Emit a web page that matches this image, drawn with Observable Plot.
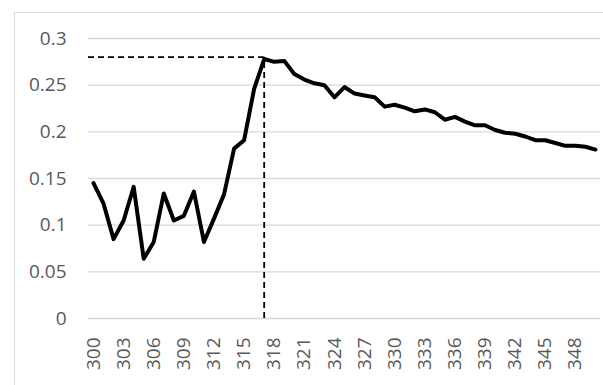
<!DOCTYPE html>
<html><head><meta charset="utf-8">
<script src="https://cdn.jsdelivr.net/npm/d3@7"></script>
<script src="https://cdn.jsdelivr.net/npm/@observablehq/plot@0.6"></script>
<style>
body{margin:0;background:#fff;}
#wrap{position:relative;width:603px;height:385px;overflow:hidden;}
#frame{position:absolute;left:14px;top:12px;width:620px;height:400px;border:1px solid #d9d9d9;}
#chart{position:absolute;left:0;top:0;}
</style></head><body>
<div id="wrap"><div id="frame"></div><div id="chart"></div></div>
<script>
const xs = [300,301,302,303,304,305,306,307,308,309,310,311,312,313,314,315,316,317,318,319,320,321,322,323,324,325,326,327,328,329,330,331,332,333,334,335,336,337,338,339,340,341,342,343,344,345,346,347,348,349,350];
const values = [0.145,0.123,0.085,0.105,0.141,0.064,0.082,0.134,0.105,0.110,0.136,0.082,0.107,0.133,0.182,0.191,0.246,0.278,0.275,0.276,0.262,0.256,0.252,0.250,0.237,0.248,0.241,0.239,0.237,0.227,0.229,0.226,0.222,0.224,0.221,0.213,0.216,0.211,0.207,0.207,0.202,0.199,0.198,0.195,0.191,0.191,0.188,0.185,0.185,0.184,0.181];
const xTicks = [300,303,306,309,312,315,318,321,324,327,330,333,336,339,342,345,348];
const yTicks = [0,0.05,0.1,0.15,0.2,0.25,0.3];
const yLabels = ["0","0.05","0.1","0.15","0.2","0.25","0.3"];
const peakX = 317, peakY = 0.28;

const data = xs.map((x,i)=>({x, y: values[i]}));

const chart = Plot.plot({
  width: 603, height: 385,
  marginLeft: 88, marginRight: 3, marginTop: 38, marginBottom: 67,
  x: {type: "linear", domain: [299.5, 350.5], label: null},
  y: {domain: [0, 0.3], label: null},
  style: {fontFamily: "Open Sans", fontSize: "19px", color: "#595959", background: "transparent", overflow: "visible"},
  marks: [
    Plot.gridY(yTicks, {stroke: "#d9d9d9", strokeOpacity: 1, strokeWidth: 1.3}),
    Plot.axisY(yTicks, {tickSize: 0, tickPadding: 22, tickFormat: (d,i)=>yLabels[i], fill: "#595959", fontSize: 19, label: null}),
    Plot.axisX(xTicks, {tickSize: 0, tickPadding: 19, tickRotate: -90, tickFormat: d=>String(d), fill: "#595959", fontSize: 19, label: null}),
    Plot.ruleY([peakY], {x1: 299.5, x2: peakX, stroke: "#000", strokeWidth: 1.8, strokeDasharray: "6,4"}),
    Plot.ruleX([peakX], {y1: 0, y2: peakY, stroke: "#000", strokeWidth: 1.8, strokeDasharray: "6,4"}),
    Plot.line(data, {x: "x", y: "y", stroke: "#000", strokeWidth: 4, strokeLinejoin: "round"})
  ]
});
document.getElementById("chart").appendChild(chart);
</script>
</body></html>
